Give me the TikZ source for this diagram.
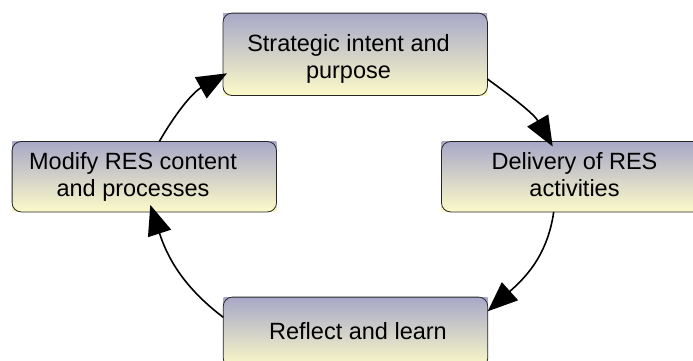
\documentclass[tikz,border=0pt]{standalone}
\usepackage{fontspec}
\setmainfont{Liberation Sans}
\usepackage{tikz}
\usetikzlibrary{arrows.meta, positioning}
\definecolor{stagetop}{RGB}{168, 168, 200}
\definecolor{stagebottom}{RGB}{252, 250, 200}

\begin{document}
\begin{tikzpicture}[
    x=1pt, y=1pt,
    stage/.style={rectangle, minimum width=264pt, minimum height=70pt, inner sep=0pt,
        top color=stagetop, bottom color=stagebottom},
    frame/.style={draw=black!85, line width=0.8pt, rounded corners=9pt},
    stagetext/.style={align=center, font=\fontsize{23.5}{27}\selectfont},
    arrow/.style={line width=1.6pt, -{Triangle[length=30pt, width=24pt]}}
]
    \useasboundingbox (0,0) rectangle (693,-360);
    \clip (0,0) rectangle (693,-360);

    % Boxes: square shaded fill, rounded frame on top
    \node[stage, minimum height=82pt] (strat) at (355.2,-54.3) {};
    \node[stage] (modify) at (144.3,-176.7) {};
    \node[stage, right=165pt of modify] (deliv) {};
    \node[stage] (reflect) at (355.5,-332.3) {};
    \foreach \n in {strat, deliv, reflect, modify}
        \draw[frame] (\n.south west) rectangle (\n.north east);

    % Labels
    \node[stagetext] (stratText) at (348.5,-59.1) {Strategic intent and\\purpose};
    \node[stagetext] (delivText) at (574.5,-174.3) {Delivery of RES\\activities};
    \node[stagetext, anchor=base] (reflectText) at (358,-339.3) {Reflect and learn};
    \node[stagetext] (modifyText) at (133,-177.4) {Modify RES content\\and processes};

    % Cycle arrows
    \draw[arrow] ([yshift=-24.7pt]strat.east) to[out=-36, in=120]
        ([xshift=-21pt, yshift=-5pt]deliv.north);
    \draw[arrow] ([xshift=-20pt]deliv.south) to[out=-98, in=42]
        ([yshift=21pt]reflect.east);
    \draw[arrow] ([yshift=15pt]reflect.west) to[out=143, in=-72]
        ([xshift=6pt, yshift=7pt]modify.south);
    \draw[arrow] ([xshift=15pt]modify.north) to[out=60, in=209]
        ([xshift=4pt, yshift=-19pt]strat.west);
\end{tikzpicture}
\end{document}
